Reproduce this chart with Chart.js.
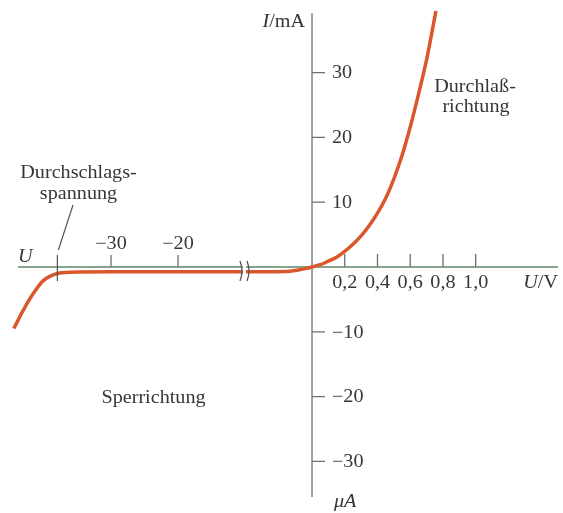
<!DOCTYPE html>
<html>
<head>
<meta charset="utf-8">
<script src="https://cdn.jsdelivr.net/npm/chart.js@4.4.0/dist/chart.umd.min.js"></script>
<style>
  html, body { margin: 0; padding: 0; background: #fff; }
  #wrap { width: 563px; height: 513px; }
</style>
</head>
<body>
<div id="wrap"><canvas id="diode" width="563" height="513"></canvas></div>
<script>
// reverse branch: volts / microamps
var revVolt    = [-44.5, -43.1, -41.6, -40.1, -38.0, -36.0, -30, -20, -10, -4, -2, -1, 0];
var revCurrent = [-9.5, -6.7, -4.1, -2.1, -1.0, -0.8, -0.75, -0.75, -0.75, -0.7, -0.45, -0.25, 0];
// forward branch: volts / milliamps
var fwdVolt    = [0, 0.05, 0.1, 0.15, 0.2, 0.25, 0.3, 0.35, 0.4, 0.45, 0.5, 0.55, 0.6, 0.65, 0.7, 0.757];
var fwdCurrent = [0, 0.35, 0.9, 1.5, 2.4, 3.5, 4.8, 6.4, 8.3, 10.6, 13.6, 17.2, 21.6, 26.6, 32.0, 39.5];

var negVoltTicks = [-30, -20];
var negVoltLabels = ["\u221230", "\u221220"];
var posVoltTicks = [0.2, 0.4, 0.6, 0.8, 1.0];
var posVoltLabels = ["0,2", "0,4", "0,6", "0,8", "1,0"];
var mATicks = [10, 20, 30];
var uATicks = [-10, -20, -30];
var uALabels = ["\u221210", "\u221220", "\u221230"];
var breakdownVolt = -38;
var breakVolt = -10;

// forward volts are stretched: 1 V there is as wide as ~24 V on the reverse side
var FWD = 24.43;

var points = [];
for (var i = 0; i < revVolt.length; i++) points.push({x: revVolt[i], y: revCurrent[i]});
for (var j = 1; j < fwdVolt.length; j++) points.push({x: fwdVolt[j] * FWD, y: fwdCurrent[j]});

var FONT = '18px "Liberation Serif", "Times New Roman", serif';
var FONT_I = 'italic 18px "Liberation Serif", "Times New Roman", serif';
var STRETCH = 1.12; // the scan's type is a bit wide

function rich(ctx, parts, x, y, align) {
  var w = 0, k;
  for (k = 0; k < parts.length; k++) {
    ctx.font = parts[k][1] ? FONT_I : FONT;
    w += ctx.measureText(parts[k][0]).width;
  }
  w *= STRETCH;
  var start = align === 'center' ? x - w / 2 : (align === 'right' ? x - w : x);
  ctx.save();
  ctx.translate(start, y);
  ctx.scale(STRETCH, 1);
  ctx.textAlign = 'left';
  var cx = 0;
  for (k = 0; k < parts.length; k++) {
    ctx.font = parts[k][1] ? FONT_I : FONT;
    ctx.fillText(parts[k][0], cx, 0);
    cx += ctx.measureText(parts[k][0]).width;
  }
  ctx.restore();
}
function txt(ctx, s, x, y, align) { rich(ctx, [[s, false]], x, y, align); }

var axesPlugin = {
  id: 'axes',
  beforeDatasetsDraw: function(chart) {
    var ctx = chart.ctx, xs = chart.scales.x, ys = chart.scales.y;
    var x0 = xs.getPixelForValue(0), y0 = ys.getPixelForValue(0);
    ctx.save();
    ctx.lineWidth = 1.3;
    // x axis
    ctx.strokeStyle = '#5f8466';
    ctx.beginPath(); ctx.moveTo(18, y0); ctx.lineTo(558, y0); ctx.stroke();
    // y axis
    ctx.strokeStyle = '#6e6e6e';
    ctx.beginPath(); ctx.moveTo(x0, 13); ctx.lineTo(x0, 497); ctx.stroke();
    // ticks
    ctx.beginPath();
    negVoltTicks.forEach(function(v) {
      var px = xs.getPixelForValue(v);
      ctx.moveTo(px, y0); ctx.lineTo(px, y0 - 12);
    });
    posVoltTicks.forEach(function(v) {
      var px = xs.getPixelForValue(v * FWD);
      ctx.moveTo(px, y0); ctx.lineTo(px, y0 - 13);
    });
    mATicks.concat(uATicks).forEach(function(v) {
      var py = ys.getPixelForValue(v);
      ctx.moveTo(x0, py); ctx.lineTo(x0 + 13, py);
    });
    ctx.stroke();
    ctx.restore();
  },
  afterDatasetsDraw: function(chart) {
    var ctx = chart.ctx, xs = chart.scales.x, ys = chart.scales.y;
    var x0 = xs.getPixelForValue(0), y0 = ys.getPixelForValue(0);
    ctx.save();
    // breakdown marker and pointer
    var kx = xs.getPixelForValue(breakdownVolt);
    ctx.strokeStyle = '#555';
    ctx.lineWidth = 1.2;
    ctx.beginPath();
    ctx.moveTo(kx, y0 - 12); ctx.lineTo(kx, y0 + 14);
    ctx.moveTo(73, 205); ctx.lineTo(kx + 1, 250);
    ctx.stroke();
    // axis break
    var bx = xs.getPixelForValue(breakVolt);
    ctx.fillStyle = '#fff';
    ctx.fillRect(bx - 2, y0 - 6, 3, 14);
    ctx.strokeStyle = '#555';
    ctx.lineWidth = 1.3;
    [bx - 4, bx + 3].forEach(function(px) {
      ctx.beginPath();
      ctx.moveTo(px - 1, y0 - 6);
      ctx.quadraticCurveTo(px + 3, y0 + 4, px - 1, y0 + 14);
      ctx.stroke();
    });
    // labels
    ctx.fillStyle = '#363636';
    ctx.textBaseline = 'alphabetic';
    negVoltTicks.forEach(function(v, i) {
      txt(ctx, negVoltLabels[i], xs.getPixelForValue(v), 249, 'center');
    });
    posVoltTicks.forEach(function(v, i) {
      txt(ctx, posVoltLabels[i], xs.getPixelForValue(v * FWD), 288, 'center');
    });
    ctx.textBaseline = 'middle';
    mATicks.forEach(function(v) {
      txt(ctx, String(v), 332, ys.getPixelForValue(v) + 1, 'left');
    });
    uATicks.forEach(function(v, i) {
      txt(ctx, uALabels[i], 332, ys.getPixelForValue(v) + 1, 'left');
    });
    ctx.textBaseline = 'alphabetic';
    rich(ctx, [['I', true], ['/mA', false]], 305, 27, 'right');
    rich(ctx, [['U', true], ['/V', false]], 558, 288, 'right');
    rich(ctx, [['U', true]], 18, 262, 'left');
    rich(ctx, [['\u03bcA', true]], 334, 507, 'left');
    txt(ctx, 'Durchschlags-', 78.5, 178, 'center');
    txt(ctx, 'spannung', 78.5, 199, 'center');
    txt(ctx, 'Durchla\u00df-', 475, 92, 'center');
    txt(ctx, 'richtung', 476, 112, 'center');
    txt(ctx, 'Sperrichtung', 153.5, 403, 'center');
    ctx.restore();
  }
};

var ctx = document.getElementById('diode').getContext('2d');
var diode = new Chart(ctx, {
  type: 'line',
  data: {
    datasets: [{
      data: points,
      borderColor: '#d9572b',
      borderWidth: 3.5,
      pointRadius: 0,
      fill: false,
      cubicInterpolationMode: 'monotone',
      clip: false
    }]
  },
  options: {
    responsive: false,
    animation: false,
    layout: { padding: { left: 10, right: 3, top: 10, bottom: 13 } },
    plugins: { legend: { display: false }, tooltip: { enabled: false } },
    scales: {
      x: { type: 'linear', display: false, min: -45.07, max: 37.01 },
      y: { type: 'linear', display: false, min: -35.96, max: 39.66 }
    }
  },
  plugins: [axesPlugin]
});
</script>
</body>
</html>
